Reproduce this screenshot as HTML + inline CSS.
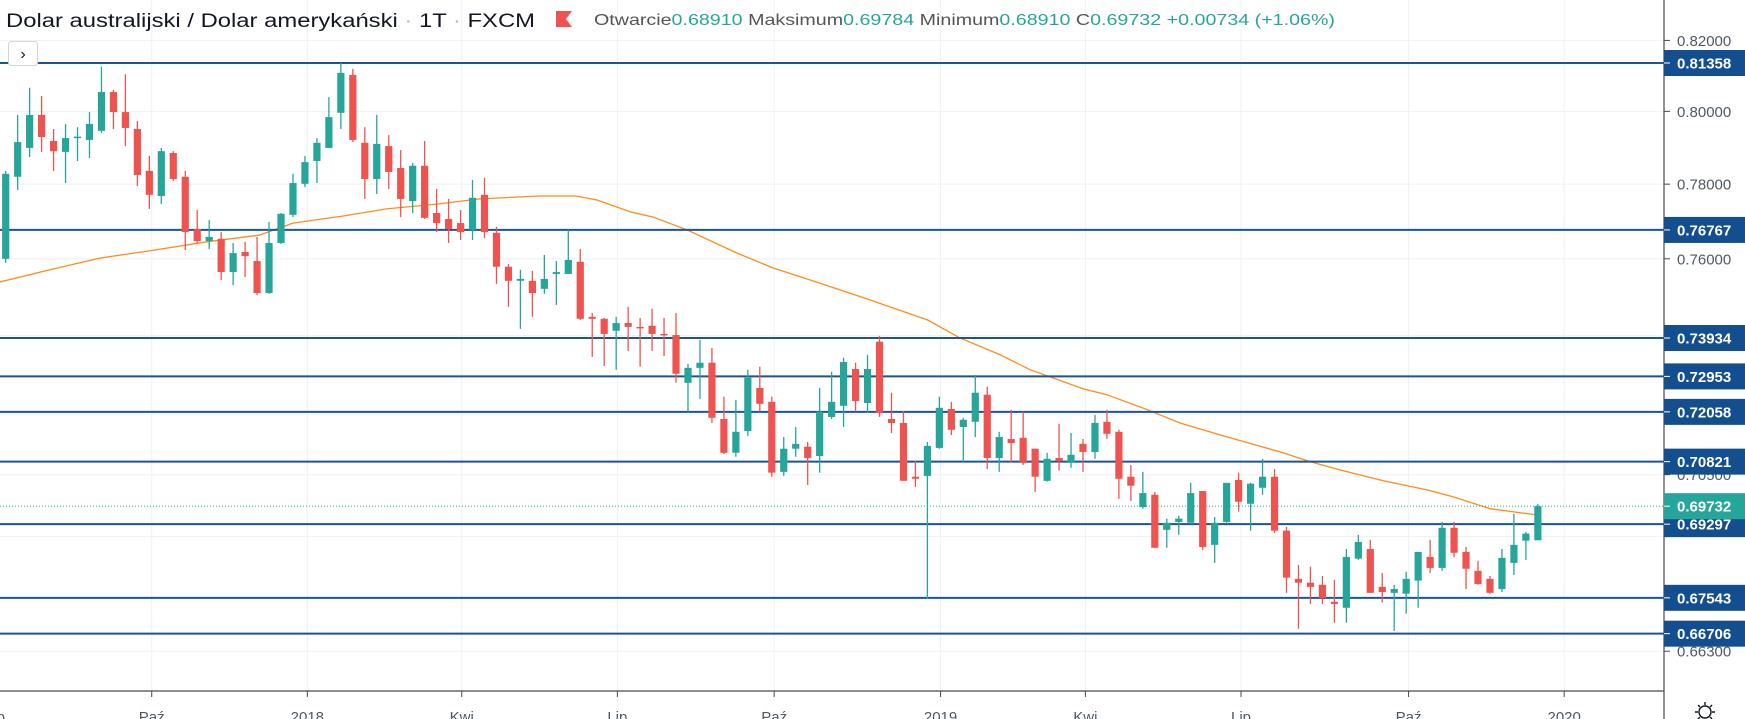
<!DOCTYPE html>
<html><head><meta charset="utf-8">
<style>
html,body{margin:0;padding:0;background:#fff;overflow:hidden}
#wrap{position:relative;width:1745px;height:719px;font-family:"Liberation Sans",sans-serif}
svg text{font-family:"Liberation Sans",sans-serif}
</style></head>
<body>
<div id="wrap">
<svg id="chart" width="1745" height="719" viewBox="0 0 1745 719" xmlns="http://www.w3.org/2000/svg">
  <rect x="0" y="0" width="1745" height="719" fill="#ffffff"/>
  <g id="grid"></g>
  <g id="ma"></g>
  <g id="levels"></g>
  <g id="candles"></g>
  <g id="axes"></g>
  <g id="header">
    <text x="6" y="27" font-size="19" fill="#131722" textLength="529" lengthAdjust="spacingAndGlyphs">Dolar australijski / Dolar amerykański <tspan fill="#b2b5be">·</tspan> 1T <tspan fill="#b2b5be">·</tspan> FXCM</text>
    <path d="M556 11 L572 11 L566 19 L572 27 L556 27 Z" fill="#f05252"/>
    <text x="594" y="25" font-size="16" fill="#555" textLength="741" lengthAdjust="spacingAndGlyphs">Otwarcie<tspan fill="#26a69a">0.68910</tspan>  Maksimum<tspan fill="#26a69a">0.69784</tspan>  Minimum<tspan fill="#26a69a">0.68910</tspan>  C<tspan fill="#26a69a">0.69732</tspan>  <tspan fill="#26a69a">+0.00734 (+1.06%)</tspan></text>
  </g>
  <g>
    <rect x="8.5" y="41.5" width="29" height="24" rx="3" fill="#fff" stroke="#d1d4dc"/>
    <text x="23" y="59" font-size="16" text-anchor="middle" fill="#131722">›</text>
  </g>
  <g transform="translate(1705,712)">
    <circle cx="0" cy="0" r="6" fill="none" stroke="#131722" stroke-width="1.4"/>
    <path d="M0 -10V-7M0 7V10M-10 0H-7M7 0H10M-7 -7L-5 -5M5 5L7 7M-7 7L-5 5M5 -5L7 -7" stroke="#131722" stroke-width="1.4"/>
  </g>
</svg>
</div>
<script>
const opens=[0.7600,0.7820,0.7899,0.7990,0.7918,0.7888,0.7928,0.7921,0.7946,0.8054,0.7998,0.7951,0.7836,0.7768,0.7885,0.7820,0.7679,0.7647,0.7653,0.7565,0.7618,0.7594,0.7510,0.7642,0.7717,0.7801,0.7863,0.7899,0.7996,0.8102,0.7913,0.7814,0.7904,0.7844,0.7754,0.7850,0.7722,0.7706,0.7695,0.7677,0.7771,0.7669,0.7579,0.7542,0.7542,0.7521,0.7560,0.7560,0.7592,0.7448,0.7443,0.7412,0.7432,0.7422,0.7425,0.7404,0.7401,0.7279,0.7317,0.7330,0.7188,0.7104,0.7158,0.7266,0.7231,0.7057,0.7114,0.7119,0.7096,0.7193,0.7221,0.7314,0.7228,0.7384,0.7188,0.7178,0.7045,0.7047,0.7116,0.7213,0.7168,0.7181,0.7249,0.7091,0.7138,0.7141,0.7114,0.7035,0.7091,0.7079,0.7126,0.7106,0.7181,0.7156,0.7045,0.6971,0.7001,0.6916,0.6935,0.6933,0.7010,0.6880,0.6935,0.7037,0.6979,0.7018,0.7045,0.6914,0.6799,0.6790,0.6785,0.6745,0.6731,0.6847,0.6870,0.6780,0.6766,0.6764,0.6795,0.6851,0.6825,0.6921,0.6863,0.6818,0.6799,0.6775,0.6837,0.6890,0.6891];
const highs=[0.7836,0.7990,0.8066,0.8043,0.7951,0.7965,0.7956,0.7998,0.8125,0.8060,0.8104,0.7973,0.7877,0.7899,0.7890,0.7836,0.7730,0.7703,0.7671,0.7642,0.7645,0.7658,0.7698,0.7722,0.7828,0.7877,0.7926,0.8040,0.8136,0.8119,0.7956,0.7990,0.7934,0.7893,0.7858,0.7918,0.7787,0.7760,0.7730,0.7811,0.7817,0.7685,0.7586,0.7571,0.7568,0.7610,0.7594,0.7677,0.7626,0.7458,0.7445,0.7448,0.7474,0.7445,0.7469,0.7445,0.7458,0.7327,0.7389,0.7368,0.7244,0.7236,0.7312,0.7320,0.7244,0.7143,0.7168,0.7131,0.7266,0.7307,0.7343,0.7330,0.7350,0.7399,0.7254,0.7208,0.7084,0.7131,0.7244,0.7231,0.7191,0.7299,0.7269,0.7156,0.7211,0.7206,0.7114,0.7104,0.7176,0.7153,0.7138,0.7198,0.7211,0.7161,0.7074,0.7057,0.7008,0.6943,0.6950,0.7030,0.7010,0.6947,0.7030,0.7055,0.7030,0.7089,0.7064,0.6923,0.6832,0.6828,0.6806,0.6797,0.6870,0.6904,0.6892,0.6813,0.6785,0.6816,0.6863,0.6892,0.6935,0.6935,0.6875,0.6842,0.6806,0.6870,0.6955,0.6911,0.69784];
const lows=[0.7589,0.7784,0.7874,0.7888,0.7836,0.7803,0.7863,0.7871,0.7940,0.7951,0.7904,0.7795,0.7733,0.7746,0.7809,0.7623,0.7642,0.7626,0.7544,0.7531,0.7552,0.7505,0.7508,0.7639,0.7711,0.7792,0.7803,0.7899,0.7951,0.7915,0.7760,0.7773,0.7787,0.7711,0.7722,0.7706,0.7671,0.7642,0.7650,0.7650,0.7655,0.7534,0.7474,0.7417,0.7448,0.7508,0.7479,0.7560,0.7440,0.7345,0.7322,0.7312,0.7360,0.7320,0.7360,0.7347,0.7279,0.7206,0.7238,0.7178,0.7101,0.7094,0.7146,0.7206,0.7045,0.7047,0.7094,0.7025,0.7055,0.7188,0.7168,0.7206,0.7203,0.7193,0.7153,0.7035,0.7020,0.6752,0.7114,0.7148,0.7082,0.7143,0.7064,0.7057,0.7079,0.7074,0.7008,0.7033,0.7060,0.7067,0.7057,0.7089,0.7138,0.6991,0.6986,0.6967,0.6873,0.6873,0.6904,0.6930,0.6868,0.6837,0.6933,0.6960,0.6914,0.7001,0.6909,0.6766,0.6682,0.6740,0.6740,0.6696,0.6696,0.6844,0.6766,0.6743,0.6677,0.6717,0.6731,0.6813,0.6818,0.6851,0.6775,0.6785,0.6764,0.6768,0.6808,0.6844,0.6891];
const closes=[0.7828,0.7915,0.7990,0.7929,0.7890,0.7926,0.7930,0.7965,0.8054,0.7998,0.7954,0.7825,0.7771,0.7890,0.7814,0.7671,0.7647,0.7658,0.7565,0.7615,0.7607,0.7510,0.7642,0.7720,0.7803,0.7860,0.7913,0.7984,0.8108,0.7921,0.7814,0.7910,0.7833,0.7760,0.7850,0.7709,0.7695,0.7679,0.7671,0.7763,0.7671,0.7579,0.7542,0.7547,0.7510,0.7547,0.7565,0.7597,0.7443,0.7443,0.7404,0.7432,0.7422,0.7419,0.7404,0.7401,0.7302,0.7317,0.7330,0.7191,0.7104,0.7156,0.7292,0.7226,0.7055,0.7114,0.7126,0.7091,0.7206,0.7231,0.7332,0.7233,0.7314,0.7203,0.7178,0.7035,0.7040,0.7121,0.7216,0.7161,0.7186,0.7254,0.7091,0.7143,0.7128,0.7079,0.7045,0.7089,0.7084,0.7099,0.7106,0.7178,0.7151,0.7040,0.7023,0.7005,0.6873,0.6933,0.6943,0.7005,0.6875,0.6933,0.7030,0.6984,0.7028,0.7045,0.6914,0.6802,0.6790,0.6780,0.6754,0.6740,0.6851,0.6887,0.6766,0.6768,0.6775,0.6799,0.6863,0.6825,0.6921,0.6861,0.6823,0.6787,0.6766,0.6849,0.6880,0.6907,0.69732];
const maIndex=[-0.5,3.7,7.9,12,16.8,21.2,24,28.2,31.8,36,39.6,44.6,47.6,49.4,52.2,54.1,56.9,61.1,64.1,68,72.2,77,79.7,83.1,85.6,90,92,95.4,98.1,101.7,106.5,109,111.7,115.1,118.7,120.9,124,127.9];
const maValues=[0.7539,0.7571,0.7602,0.7621,0.7645,0.7663,0.7695,0.7714,0.7733,0.7746,0.7760,0.7768,0.7768,0.7757,0.7725,0.7711,0.7677,0.7615,0.7576,0.7536,0.7492,0.7440,0.7394,0.7350,0.7312,0.7264,0.7249,0.7211,0.7178,0.7146,0.7106,0.7082,0.7060,0.7035,0.7013,0.6996,0.6967,0.6952];
const levelPrices=[0.81358,0.76767,0.73934,0.72953,0.72058,0.70821,0.69297,0.67543,0.66706];
const levelLabels=["0.81358","0.76767","0.73934","0.72953","0.72058","0.70821","0.69297","0.67543","0.66706"];
const priceTicks=[0.82,0.80,0.78,0.76,0.74,0.72,0.705,0.69,0.663];
const priceTickLabels=["0.82000","0.80000","0.78000","0.76000","0.74000","0.72000","0.70500","","0.66300"];
const timeTickIndex=[-0.9,12.2,25.2,38.1,51.1,64.2,78.1,90.2,103.2,117.2,130.2];
const timeTickLabels=["Lip","Paź","2018","Kwi","Lip","Paź","2019","Kwi","Lip","Paź","2020"];
const lastPrice=0.69732;
const lastPriceLabel="0.69732";

const NS="http://www.w3.org/2000/svg";
const PLOT_R=1664, PLOT_B=691;
function yScale(p){return 63+2874*Math.log(0.81358/p);}
function xScale(i){return 5.7+i*11.97;}
function mk(tag,attrs,parent){const e=document.createElementNS(NS,tag);for(const k in attrs)e.setAttribute(k,attrs[k]);parent.appendChild(e);return e;}

const grid=document.getElementById('grid');
const axes=document.getElementById('axes');
priceTicks.forEach((p,k)=>{
  const y=yScale(p);
  const g=mk('line',{x1:0,x2:PLOT_R,y1:y,y2:y,stroke:'#eef1f6','stroke-width':1},grid);
  
  
  const t=mk('line',{x1:PLOT_R,x2:PLOT_R+6,y1:y,y2:y,stroke:'#4a4a4a','stroke-width':1},axes);
  
  
  const tx=mk('text',{x:1677,y:y+5.5,'font-size':15,fill:'#4f5966'},axes);
  tx.textContent=priceTickLabels[k];
  
  
});
timeTickIndex.forEach((ix,k)=>{
  const x=xScale(ix);
  const g=mk('line',{x1:x,x2:x,y1:0,y2:PLOT_B,stroke:'#eef1f6','stroke-width':1},grid);
  
  
  const t=mk('line',{x1:x,x2:x,y1:PLOT_B,y2:PLOT_B+6,stroke:'#4a4a4a','stroke-width':1},axes);
  
  
  const tx=mk('text',{x:x,y:722,'font-size':15,fill:'#4f5966','text-anchor':'middle'},axes);
  tx.textContent=timeTickLabels[k];
  
  
});
const maG=document.getElementById('ma');
const maPts=maIndex.map((ix,k)=>xScale(ix).toFixed(1)+','+yScale(maValues[k]).toFixed(1)).join(' ');
const maLine=mk('polyline',{points:maPts,fill:'none',stroke:'#ff8c1a','stroke-width':1.3},maG);


const lv=document.getElementById('levels');
levelPrices.forEach((p,k)=>{
  const y=yScale(p);
  const l=mk('line',{x1:0,x2:PLOT_R,y1:y,y2:y,stroke:'#1a5596','stroke-width':2},lv);
  
  
});
const cy=yScale(lastPrice);
const cl=mk('line',{x1:0,x2:PLOT_R,y1:cy,y2:cy,stroke:'#26a69a','stroke-width':1,'stroke-dasharray':'1 2'},lv);


const cg=document.getElementById('candles');
for(let i=0;i<opens.length;i++){
  const x=xScale(i), up=closes[i]>=opens[i], col=up?'#26a69a':'#ef5350';
  const w=mk('line',{x1:x,x2:x,y1:yScale(highs[i]),y2:yScale(lows[i]),stroke:col,'stroke-width':1.3},cg);
  
  
  const yt=yScale(Math.max(opens[i],closes[i])), yb=yScale(Math.min(opens[i],closes[i]));
  const b=mk('rect',{x:x-3.6,y:yt,width:7.2,height:Math.max(1.5,yb-yt),fill:col},cg);
  
  
}
const ax1=mk('line',{x1:PLOT_R,x2:PLOT_R,y1:0,y2:719,stroke:'#4a4a4a','stroke-width':1.2},axes);


const ax2=mk('line',{x1:0,x2:PLOT_R,y1:PLOT_B,y2:PLOT_B,stroke:'#4a4a4a','stroke-width':1.2},axes);


function priceBox(p,txt,col,name){
  const y=yScale(p);
  const r=mk('rect',{x:PLOT_R,y:y-13,width:1745-PLOT_R,height:26,fill:col},axes);
  
  
  const tk=mk('line',{x1:PLOT_R,x2:PLOT_R+6,y1:y,y2:y,stroke:'#ffffff','stroke-width':1},axes);
  
  
  const t=mk('text',{x:1677,y:y+5.5,'font-size':15,'font-weight':'bold',fill:'#ffffff'},axes);
  t.textContent=txt;
  
  
}
levelPrices.forEach((p,k)=>priceBox(p,levelLabels[k],'#134f8e','level-price'));
priceBox(lastPrice,lastPriceLabel,'#26a69a','last-price');
</script>
</body></html>
